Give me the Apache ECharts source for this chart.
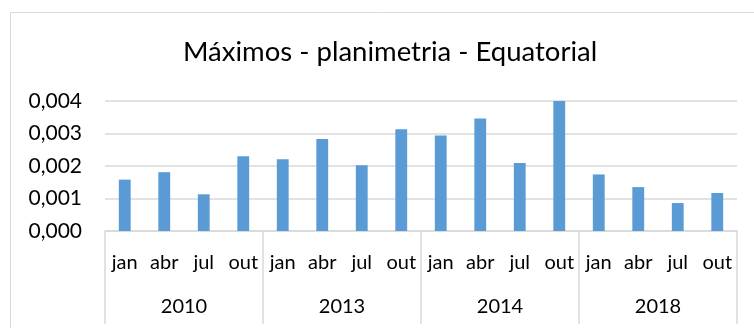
<!DOCTYPE html>
<html>
<head>
<meta charset="utf-8">
<script src="https://cdn.jsdelivr.net/npm/echarts@6/dist/echarts.min.js"></script>
<style>
  html, body { margin: 0; padding: 0; background: #ffffff; }
  #chart { width: 754px; height: 328px; }
</style>
</head>
<body>
<div id="chart"></div>
<script>
// Quarterly maximum values, grouped by year
const years = ['2010', '2013', '2014', '2018'];
const months = ['jan', 'abr', 'jul', 'out'];
const values2010 = [0.00158, 0.00181, 0.00113, 0.00230];
const values2013 = [0.00221, 0.00283, 0.00202, 0.00313];
const values2014 = [0.00294, 0.00346, 0.00209, 0.00401];
const values2018 = [0.00174, 0.00135, 0.00086, 0.00117];
const yTicks = { min: 0, max: 0.004, step: 0.001 };

const monthCategories = [];
years.forEach(() => months.forEach(m => monthCategories.push(m)));
const seriesValues = [].concat(values2010, values2013, values2014, values2018);

const FONT = 'Lato';
const GRID_COLOR = '#d9d9d9';
const TEXT_COLOR = '#000000';

const chart = echarts.init(document.getElementById('chart'), null, { renderer: 'canvas' });

chart.setOption({
  backgroundColor: '#ffffff',
  animation: false,
  title: {
    text: 'Máximos - planimetria - Equatorial',
    left: 183,
    top: 38,
    padding: 0,
    textStyle: { fontFamily: FONT, fontSize: 27.5, fontWeight: 'normal', color: TEXT_COLOR }
  },
  graphic: [{
    type: 'rect',
    shape: { x: 10.5, y: 12.5, width: 800, height: 400 },
    style: { fill: 'none', stroke: GRID_COLOR, lineWidth: 1 },
    silent: true
  }],
  grid: { left: 105, right: 17, top: 101, bottom: 97, containLabel: false },
  xAxis: [
    {
      type: 'category',
      data: monthCategories,
      position: 'bottom',
      boundaryGap: true,
      axisLine: { show: true, lineStyle: { color: GRID_COLOR, width: 1.5 } },
      axisTick: { show: false },
      axisLabel: {
        interval: 0,
        margin: 22,
        fontFamily: FONT,
        fontSize: 20,
        lineHeight: 20,
        color: TEXT_COLOR
      },
      splitLine: { show: false }
    },
    {
      type: 'category',
      data: years,
      position: 'bottom',
      boundaryGap: true,
      axisLine: { show: false },
      axisTick: {
        show: true,
        length: 93,
        lineStyle: { color: GRID_COLOR, width: 1.5 }
      },
      axisLabel: {
        interval: 0,
        margin: 66,
        fontFamily: FONT,
        fontSize: 20,
        lineHeight: 20,
        color: TEXT_COLOR
      },
      splitLine: { show: false }
    }
  ],
  yAxis: {
    type: 'value',
    min: yTicks.min,
    max: yTicks.max,
    interval: yTicks.step,
    axisLine: { show: false },
    axisTick: { show: false },
    axisLabel: {
      margin: 23,
      fontFamily: FONT,
      fontSize: 21,
      color: TEXT_COLOR,
      formatter: v => v.toFixed(3).replace('.', ',')
    },
    splitLine: { show: true, lineStyle: { color: GRID_COLOR, width: 1.5 } }
  },
  series: [{
    type: 'bar',
    xAxisIndex: 0,
    data: seriesValues,
    barWidth: '30%',
    itemStyle: { color: '#5b9bd5' }
  }]
});
</script>
</body>
</html>
